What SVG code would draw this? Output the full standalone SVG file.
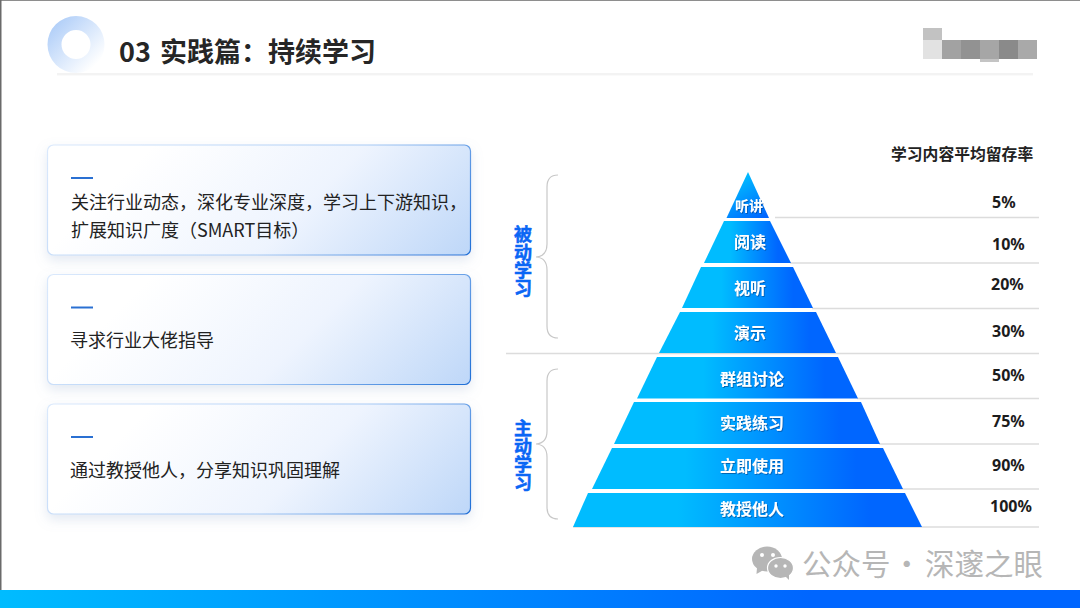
<svg xmlns="http://www.w3.org/2000/svg" width="1080" height="608" viewBox="0 0 1080 608">
<style>
text{font-family:"Noto Sans CJK SC","Noto Sans",sans-serif}
.card{fill:url(#cardFill);stroke:url(#cardStroke);stroke-width:1.2;filter:url(#cardShadow)}
.dash{stroke:#2a70d2;stroke-width:2}
.body{font-size:18px;fill:#222}
.band{fill:url(#band)}
.lab{font-size:16px;font-weight:700;fill:#fff;text-anchor:middle;filter:url(#labShadow)}
.pct{font-family:"Noto Sans","Noto Sans CJK SC",sans-serif;font-size:16px;font-weight:700;fill:#1c1c1c}
.rule{stroke:#dcdcdc;stroke-width:1.5;fill:none}
.brace{stroke:#c8c8c8;stroke-width:1.2;fill:none}
.side{font-size:18px;font-weight:700;fill:#0a66f5;stroke:#0a66f5;stroke-width:0.5;writing-mode:vertical-rl;text-orientation:upright}
</style>
<defs>
<linearGradient id="ring" x1="0" y1="0" x2="1" y2="1"><stop offset="0.1" stop-color="#aecdf8"/><stop offset="0.85" stop-color="#ffffff"/></linearGradient>
<linearGradient id="cardFill" x1="0" y1="0" x2="1.18" y2="0.307"><stop offset="0.2" stop-color="#ffffff"/><stop offset="0.6" stop-color="#eef4fe"/><stop offset="1" stop-color="#bed7f8"/></linearGradient>
<linearGradient id="cardStroke" x1="0" y1="0" x2="1.18" y2="0.307"><stop offset="0" stop-color="#dbe9fc"/><stop offset="0.6" stop-color="#a9cbf5"/><stop offset="1" stop-color="#1f6fd6"/></linearGradient>
<linearGradient id="band" x1="0" y1="0" x2="1" y2="0"><stop offset="0.3" stop-color="#00bcff"/><stop offset="0.85" stop-color="#0066ff"/></linearGradient>
<linearGradient id="bandTop" x1="0.3" y1="0" x2="0.85" y2="1"><stop offset="0.1" stop-color="#00bcff"/><stop offset="1" stop-color="#0066ff"/></linearGradient>
<linearGradient id="bar" x1="0" y1="0" x2="1" y2="0"><stop offset="0" stop-color="#00bcff"/><stop offset="0.75" stop-color="#0066ff"/></linearGradient>
<filter id="cardShadow" x="-10%" y="-25%" width="120%" height="155%"><feDropShadow dx="0" dy="5" stdDeviation="6" flood-color="#8fa9cc" flood-opacity="0.25"/></filter>
<filter id="labShadow" x="-20%" y="-20%" width="140%" height="150%"><feDropShadow dx="0.8" dy="1" stdDeviation="0.5" flood-color="#003a80" flood-opacity="0.6"/></filter>
</defs>
<rect width="1080" height="608" fill="#ffffff"/>
<rect x="0" y="0" width="1080" height="1" fill="#8e8e8e"/>
<rect x="0" y="0" width="1.5" height="608" fill="#6a6a6a"/>

<g id="header">
<rect x="57" y="73" width="976" height="2.4" fill="#f3f3f3"/>
<path fill-rule="evenodd" fill="url(#ring)" d="M47.5 44.5a28.5 28.5 0 1 0 57 0a28.5 28.5 0 1 0 -57 0zM61.5 44.5a14.5 14.5 0 1 1 29 0a14.5 14.5 0 1 1 -29 0z"/>
<text x="119" y="62" font-size="27" font-weight="700" fill="#262626">03 <tspan x="160">实践篇：持续学习</tspan></text>
</g>
<g id="logo-mosaic">
<rect x="923" y="28" width="19" height="12" fill="#c2c2c2"/>
<rect x="923" y="40" width="19" height="19" fill="#e2e2e2"/>
<rect x="942" y="40" width="19" height="19" fill="#a2a2a2"/>
<rect x="961" y="40" width="19" height="19" fill="#929292"/>
<rect x="980" y="40" width="19" height="19" fill="#a6a6a6"/>
<rect x="980" y="59" width="19" height="3" fill="#c4c4c4"/>
<rect x="999" y="40" width="19" height="19" fill="#8a8a8a"/>
<rect x="1018" y="40" width="19" height="19" fill="#a9a9a9"/>
</g>

<g id="card-1">
<rect class="card" x="47.5" y="145" width="423" height="110" rx="6"/>
<line class="dash" x1="71" y1="178" x2="93" y2="178"/>
<text class="body" x="71" y="209">关注行业动态，深化专业深度，学习上下游知识，</text>
<text class="body" x="71" y="237">扩展知识广度（SMART目标）</text>
</g>
<g id="card-2">
<rect class="card" x="47.5" y="274.5" width="423" height="110" rx="6"/>
<line class="dash" x1="71" y1="307.5" x2="93" y2="307.5"/>
<text class="body" x="70" y="347">寻求行业大佬指导</text>
</g>
<g id="card-3">
<rect class="card" x="47.5" y="404" width="423" height="110" rx="6"/>
<line class="dash" x1="71" y1="437" x2="93" y2="437"/>
<text class="body" x="70" y="477">通过教授他人，分享知识巩固理解</text>
</g>

<g id="connectors">
<line class="rule" x1="775" y1="217.5" x2="1039" y2="217.5"/>
<line class="rule" x1="790" y1="263" x2="1039" y2="263"/>
<line class="rule" x1="812" y1="308.5" x2="1039" y2="308.5"/>
<line class="rule" x1="506" y1="353.5" x2="1039" y2="353.5"/>
<line class="rule" x1="857" y1="398.5" x2="1039" y2="398.5"/>
<line class="rule" x1="879" y1="444" x2="1039" y2="444"/>
<line class="rule" x1="890" y1="489" x2="1039" y2="489"/>
<line class="rule" x1="573" y1="527" x2="1039" y2="527"/>
<path class="brace" d="M558 175C551 175 547 179 547 187V244C547 252 543 256.500 536 257C543 257.500 547 262 547 270V326C547 334 551 338 558 338"/>
<path class="brace" d="M558 369C551 369 547 373 547 381V431C547 439 543 443.500 536 444C543 444.500 547 449 547 457V507C547 515 551 519 558 519"/>
</g>

<g id="level-tingjiang"><polygon fill="url(#bandTop)" points="748,172 769,218 726.500,218"/><text class="lab" x="749" y="211" style="font-size:14px">听讲</text></g>
<g id="level-yuedu"><polygon class="band" points="724,221 770,221 791,263 704,263"/><text class="lab" x="750" y="248">阅读</text></g>
<g id="level-shiting"><polygon class="band" points="701,267 793,267 813,308 682,308"/><text class="lab" x="750" y="294">视听</text></g>
<g id="level-yanshi"><polygon class="band" points="680,312 816,312 836,353 659,353"/><text class="lab" x="750" y="339">演示</text></g>
<g id="level-qunzu"><polygon class="band" points="657,357 838,357 858,398.500 637,398.500"/><text class="lab" x="752" y="385">群组讨论</text></g>
<g id="level-shijian"><polygon class="band" points="634,402 861,402 880,444 614,444"/><text class="lab" x="752" y="429">实践练习</text></g>
<g id="level-liji"><polygon class="band" points="612,448 883,448 903,489 592,489"/><text class="lab" x="752" y="472">立即使用</text></g>
<g id="level-jiaoshou"><polygon class="band" points="588,493 905,493 922,527 573,527"/><text class="lab" x="752" y="515">教授他人</text></g>

<g id="side-labels">
<text class="side" x="523" y="225">被动学习</text>
<text class="side" x="523" y="419">主动学习</text>
</g>

<g id="retention">
<text x="891" y="160" font-size="15.800" font-weight="700" fill="#222">学习内容平均留存率</text>
<text class="pct" x="992" y="208">5%</text>
<text class="pct" x="992" y="250">10%</text>
<text class="pct" x="991" y="290">20%</text>
<text class="pct" x="992" y="337">30%</text>
<text class="pct" x="992" y="381">50%</text>
<text class="pct" x="992" y="427">75%</text>
<text class="pct" x="992" y="471">90%</text>
<text class="pct" x="990" y="512">100%</text>
</g>

<g id="watermark" fill="#b6b6b6">
<ellipse cx="767" cy="559" rx="15" ry="12.500"/>
<path d="M757 567l-0.500 7l7-4z"/>
<ellipse cx="780.500" cy="568" rx="13" ry="10.500" stroke="#fff" stroke-width="1.200"/>
<path d="M785 576l4 4l0-6z"/>
<circle cx="762" cy="555" r="2" fill="#fff"/><circle cx="773" cy="555" r="2" fill="#fff"/>
<circle cx="776" cy="566" r="1.700" fill="#fff"/><circle cx="785" cy="566" r="1.700" fill="#fff"/>
<text x="802" y="575" font-size="29.500" fill="#b6b6b6">公众号<tspan x="892">·</tspan><tspan x="925">深邃之眼</tspan></text>
</g>

<rect id="footer-bar" x="0" y="590" width="1080" height="18" fill="url(#bar)"/>
</svg>
